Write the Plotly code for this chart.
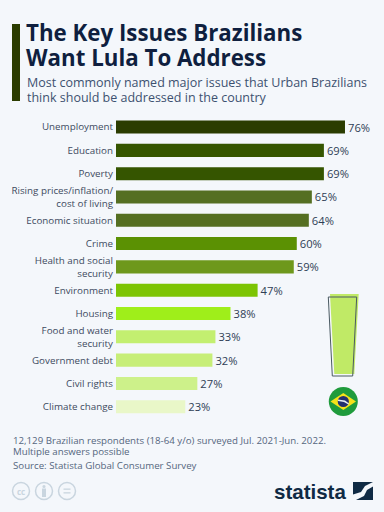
import plotly.graph_objects as go

categories = ["Unemployment", "Education", "Poverty", "Rising prices/inflation/<br>cost of living",
              "Economic situation", "Crime", "Health and social<br>security", "Environment", "Housing",
              "Food and water<br>security", "Government debt", "Civil rights", "Climate change"]
values = [76, 69, 69, 65, 64, 60, 59, 47, 38, 33, 32, 27, 23]
bar_colors = ["#2b3c00", "#355500", "#355500", "#556f22", "#556f22", "#5b9103", "#6e981c",
              "#7cc403", "#9fee1a", "#c3ef70", "#c7ee78", "#cdf18a", "#e9f7c8"]

W, H = 384, 512
BG = "#f4f7fb"
FONT = "Open Sans"
NAVY = "#0f1f3f"
SLATE = "#3d5170"
GREY = "#54667e"

px = lambda x: x / W
py = lambda y: 1 - y / H


def text(x, y, s, size, color, anchor="left", family=FONT):
    return dict(x=px(x), y=py(y), xref="paper", yref="paper", text=s, showarrow=False,
                xanchor=anchor, yanchor="middle", align=anchor, borderpad=0,
                font=dict(family=family, size=size, color=color))


def rect(x0, y0, x1, y1, fill, line=None, w=0):
    return dict(type="rect", xref="paper", yref="paper", x0=px(x0), x1=px(x1), y0=py(y0), y1=py(y1),
                fillcolor=fill, line=dict(color=line or fill, width=w), layer="above")


def circle(cx, cy, r, fill, line=None, w=0):
    s = rect(cx - r, cy - r, cx + r, cy + r, fill, line, w)
    s["type"] = "circle"
    return s


def poly(points, fill, line=None, w=0):
    d = "M" + " L".join(f"{px(x):.5f},{py(y):.5f}" for x, y in points) + " Z"
    return dict(type="path", xref="paper", yref="paper", path=d, fillcolor=fill,
                line=dict(color=line or fill, width=w), layer="above")


fig = go.Figure(go.Bar(
    y=categories, x=values, orientation="h", marker=dict(color=bar_colors, line=dict(width=0)),
    text=[f"{v}%" for v in values], textposition="outside", cliponaxis=False, constraintext="none",
    textfont=dict(family=FONT, size=11.2, color="#2f3e55"), width=0.56,
))

shapes = [
    rect(12, 24, 20, 101, "#2b3c00"),
    # exclamation mark
    poly([(330, 294), (358.7, 294), (354.3, 374), (334.3, 374)], "#c0ea66"),
    poly([(328.3, 297), (356.7, 297), (352.7, 376), (332.3, 376)], "rgba(0,0,0,0)", "#4a5a62", 1),
    # flag
    circle(343.3, 401.5, 14.5, "#1f9b3c"),
    poly([(330.5, 401.5), (343.3, 393), (356, 401.5), (343.3, 410)], "#f5e21a"),
    circle(343.3, 401.5, 5.6, "#23306f"),
    poly([(338, 399.5), (345, 400.5), (349, 403.5), (348.5, 404.5), (344, 402), (338, 401)], "#e6ecf5"),
    # licence icons
    circle(21, 491, 8.5, "rgba(0,0,0,0)", "#c9d5df", 1.5),
    circle(44, 491, 8.5, "rgba(0,0,0,0)", "#c9d5df", 1.5),
    circle(67, 491, 8.5, "rgba(0,0,0,0)", "#c9d5df", 1.5),
    circle(44, 486.5, 1.6, "#c9d5df"),
    rect(42, 488.5, 46, 497, "#c9d5df"),
    rect(63.5, 488.5, 70.5, 489.8, "#c9d5df"),
    rect(63.5, 492.2, 70.5, 493.5, "#c9d5df"),
    # statista mark
    rect(353, 482, 373, 500, "#0f2a44"),
    poly([(353, 500), (353, 494.5), (361, 492), (365, 486), (373, 482), (373, 486.5), (367, 490),
          (364, 496), (356, 500)], BG),
]

annotations = [
    text(25, 32, "<b>The Key Issues Brazilians</b>", 22.3, NAVY),
    text(25, 57, "<b>Want Lula To Address</b>", 22.3, NAVY),
    text(25.5, 82, "Most commonly named major issues that Urban Brazilians", 12.5, SLATE),
    text(25.5, 97.5, "think should be addressed in the country", 12.5, SLATE),
    text(11.5, 440, "12,129 Brazilian respondents (18-64 y/o) surveyed Jul. 2021-Jun. 2022.", 9.7, GREY),
    text(11.5, 451.5, "Multiple answers possible", 9.7, GREY),
    text(11.5, 465, "Source: Statista Global Consumer Survey", 9.7, GREY),
    text(21, 491, "<b>cc</b>", 8, "#c9d5df", "center"),
    text(347, 491, "<b>statista</b>", 20.5, "#0f2a44", "right", "Liberation Sans"),
]

fig.update_layout(
    width=W, height=H, autosize=False, margin=dict(l=0, r=0, t=0, b=0),
    paper_bgcolor=BG, plot_bgcolor=BG, showlegend=False, bargap=0.44,
    font=dict(family=FONT),
    xaxis=dict(domain=[px(116), px(384)], range=[0, 268 / 3.013], visible=False, fixedrange=True),
    yaxis=dict(domain=[py(418.4), py(115.4)], autorange=False, range=[12.5, -0.5], type="category",
               categoryorder="array", categoryarray=categories, showline=False, showgrid=False,
               ticks="", ticklabelstandoff=2, tickfont=dict(family=FONT, size=9.8, color="#3d4a5f"),
               fixedrange=True),
    shapes=shapes, annotations=annotations,
)
fig.write_html("out.html", config=dict(displayModeBar=False),
               post_script="document.body.style.margin='0';document.body.style.background='#f4f7fb';")
